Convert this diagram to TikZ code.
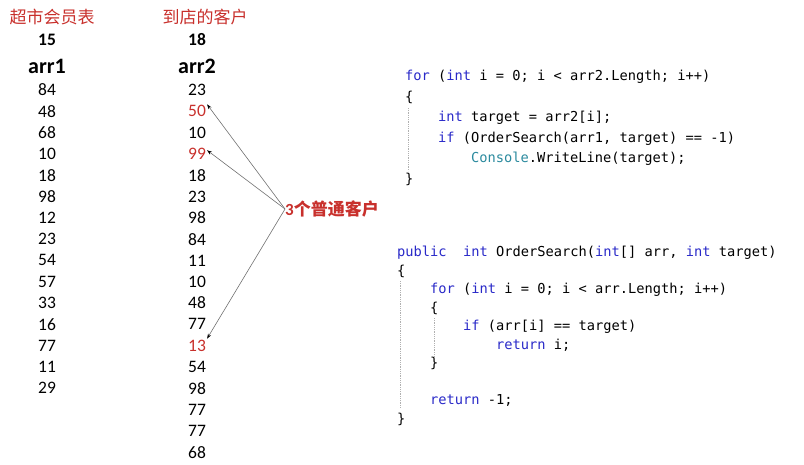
\documentclass[tikz,border=0pt]{standalone}
\usepackage{fontspec}
\setmainfont{Carlito}
\setmonofont{DejaVu Sans Mono}
\newfontfamily\cjk{Noto Sans CJK SC}
\usetikzlibrary{positioning,arrows.meta}
\definecolor{numred}{HTML}{C8302C}
\definecolor{kwblue}{HTML}{2929C8}
\definecolor{typeteal}{HTML}{2B8A9E}
\definecolor{arrgray}{HTML}{707070}
\definecolor{guidegray}{HTML}{B0B0B0}
\newcommand{\kwd}[1]{\textcolor{kwblue}{#1}}
\newcommand{\typ}[1]{\textcolor{typeteal}{#1}}

\begin{document}
\begin{tikzpicture}[x=1pt, y=-1pt, >=Stealth,
    title/.style={font=\cjk\fontsize{17}{17}\selectfont, text=numred, inner sep=1pt},
    count/.style={font=\bfseries\fontsize{17.5}{17.5}\selectfont, inner sep=1pt},
    arrname/.style={font=\bfseries\fontsize{22}{22}\selectfont, inner sep=1pt},
    num/.style={font=\fontsize{17.5}{17.5}\selectfont, inner sep=1pt},
    code/.style={font=\ttfamily\fontsize{13.7}{13.7}\selectfont, anchor=west, inner sep=0pt, text height=10pt, text depth=3pt},
    guide/.style={guidegray, densely dotted, line width=0.8pt},
    pointer/.style={arrgray, line width=0.6pt, -{Stealth[length=5pt,width=3.5pt,black]}}]
  \useasboundingbox (0,0) rectangle (804,464);
  % column headers
  \node[title] (t1) at (52,17) {超市会员表};
  \node[title] (t2) at (205,17) {到店的客户};
  \node[count] (c1) at (47,40) {15};
  \node[count] (c2) at (197,40) {18};
  \node[arrname] (arr1) at (47,66) {arr1};
  \node[arrname] (arr2) at (197,66) {arr2};
  % arr1 values
  \foreach \v [count=\k] in {84,48,68,10,18,98,12,23,54,57,33,16,77,11,29}{
    \node[num] (a\k) at (47,{90+21.3*(\k-1)}) {\v};
  }
  % arr2 values, red ones are not members
  \foreach \v/\c [count=\k] in {23/black,50/numred,10/black,99/numred,18/black,23/black,98/black,84/black,11/black,10/black,48/black,77/black,13/numred,54/black,98/black,77/black,77/black,68/black}{
    \node[num, text=\c] (b\k) at (197,{90+21.3*(\k-1)}) {\v};
  }
  % label and pointers
  \node[anchor=west, inner sep=0pt, text=numred, font=\bfseries\fontsize{17}{17}\selectfont] (lbl) at (285,209) {3{\cjk 个普通客户}};
  \draw[pointer] (lbl.west) -- (b2.north east);
  \draw[pointer] (lbl.west) -- (b4.20);
  \draw[pointer] (lbl.west) -- (b13.north east);
  % main loop
  \node[code] (m1) at (405,77) {\kwd{for} (\kwd{int} i = 0; i < arr2.Length; i++)};
  \node[code] (m2) at (405,97.5) {\{};
  \node[code] (m3) at (438,118) {\kwd{int} target = arr2[i];};
  \node[code] (m4) at (438,138.5) {\kwd{if} (OrderSearch(arr1, target) == -1)};
  \node[code] (m5) at (471,159) {\typ{Console}.WriteLine(target);};
  \node[code] (m6) at (405,179.5) {\}};
  \draw[guide] (408,108) -- (408,171);
  % OrderSearch method
  \node[code] (s1) at (397,253) {\kwd{public}~ \kwd{int} OrderSearch(\kwd{int}[] arr, \kwd{int} target)};
  \node[code] (s2) at (397,271.5) {\{};
  \node[code] (s3) at (430,290) {\kwd{for} (\kwd{int} i = 0; i < arr.Length; i++)};
  \node[code] (s4) at (430,308.5) {\{};
  \node[code] (s5) at (463,327) {\kwd{if} (arr[i] == target)};
  \node[code] (s6) at (496,345.5) {\kwd{return} i;};
  \node[code] (s7) at (430,364) {\}};
  \node[code] (s8) at (430,401) {\kwd{return} -1;};
  \node[code] (s9) at (397,419.5) {\}};
  \draw[guide] (400,281) -- (400,408);
  \draw[guide] (434,318) -- (434,357);
\end{tikzpicture}
\end{document}
